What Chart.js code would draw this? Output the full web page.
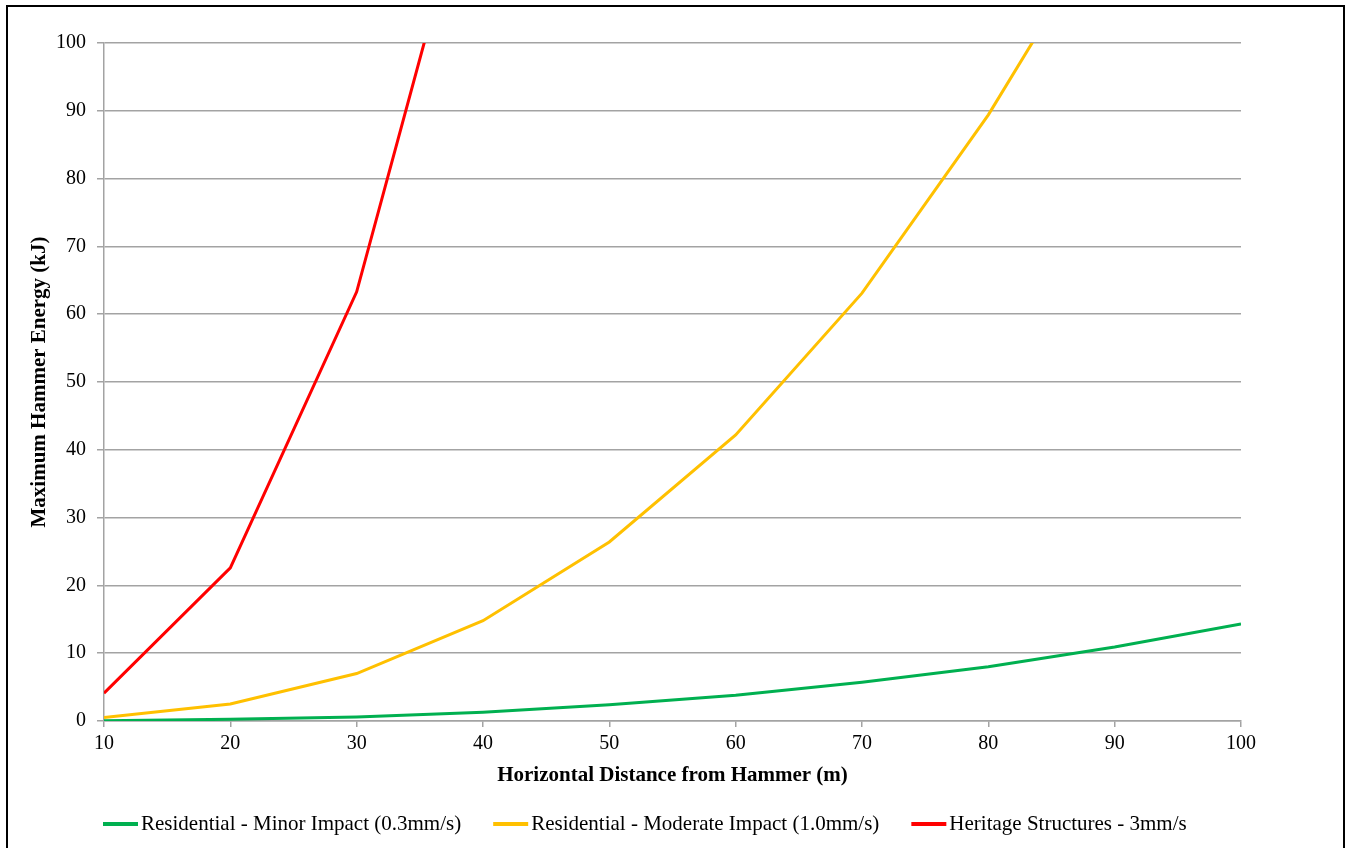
<!DOCTYPE html>
<html>
<head>
<meta charset="utf-8">
<script src="https://cdn.jsdelivr.net/npm/chart.js@4"></script>
<style>
  html, body { margin: 0; padding: 0; background: #fff; }
  #wrap { position: relative; width: 1346px; height: 848px; }
  #frame {
    position: absolute; left: 6px; top: 5px; width: 1335px; height: 860px;
    border: 2px solid #000; pointer-events: none;
  }
</style>
</head>
<body>
<div id="wrap">
  <canvas id="energyChart" width="1346" height="848"></canvas>
  <div id="frame"></div>
</div>
<script>
// distances (m) and max hammer energy (kJ)
const distances = [10, 20, 30, 40, 50, 60, 70, 80, 90, 100];
const minorImpact = [0.05, 0.25, 0.6, 1.3, 2.4, 3.8, 5.7, 8.0, 10.9, 14.3];
const moderateImpact = [0.5, 2.5, 7.0, 14.8, 26.4, 42.2, 63.1, 89.4, 120, null];
const heritage = [4.1, 22.6, 63.3, 132, null, null, null, null, null, null];

const seriesLabels = [
    'Residential - Minor Impact (0.3mm/s)',
    'Residential - Moderate Impact (1.0mm/s)',
    'Heritage Structures - 3mm/s'
];
const seriesColors = ['#00b050', '#ffc000', '#ff0000'];

const toPoints = (vals) => distances.map((d, i) => ({ x: d, y: vals[i] }));

const serif = '"Liberation Serif", "Times New Roman", serif';
const gridGrey = '#a3a3a3';

// legend drawn under the axis title, Excel style (short line + text)
const bottomLegend = {
    id: 'bottomLegend',
    afterDraw(chart) {
        const c = chart.ctx;
        c.save();
        c.font = '21px ' + serif;
        c.textBaseline = 'middle';
        c.fillStyle = '#000';
        let x = chart.chartArea.left - 1;
        const y = 824;
        chart.data.datasets.forEach((ds) => {
            c.strokeStyle = ds.borderColor;
            c.lineWidth = 4;
            c.beginPath();
            c.moveTo(x, y);
            c.lineTo(x + 35, y);
            c.stroke();
            c.fillText(ds.label, x + 38, y);
            x += 38 + c.measureText(ds.label).width + 32;
        });
        c.restore();
    }
};

const ctx = document.getElementById('energyChart');
new Chart(ctx, {
    type: 'line',
    data: {
        datasets: seriesLabels.map((label, i) => ({
            label: label,
            data: toPoints([minorImpact, moderateImpact, heritage][i]),
            borderColor: seriesColors[i],
            backgroundColor: seriesColors[i]
        }))
    },
    options: {
        responsive: false,
        animation: false,
        layout: {
            padding: { left: 0, right: 105, top: 43, bottom: 56 }
        },
        elements: {
            line: { borderWidth: 3, tension: 0 },
            point: { radius: 0 }
        },
        plugins: {
            legend: { display: false },
            tooltip: { enabled: false }
        },
        scales: {
            x: {
                type: 'linear',
                min: 10,
                max: 100,
                afterFit(scale) { scale.height = 71; },
                ticks: {
                    stepSize: 10,
                    color: '#000',
                    padding: 5,
                    font: { family: serif, size: 20 }
                },
                grid: { drawOnChartArea: false, tickLength: 6, color: gridGrey, lineWidth: 1.5 },
                border: { color: gridGrey, width: 1.5 },
                title: {
                    display: true,
                    text: 'Horizontal Distance from Hammer (m)',
                    color: '#000',
                    padding: { top: 0, bottom: 4 },
                    font: { family: serif, size: 21, weight: 'bold' }
                }
            },
            y: {
                min: 0,
                max: 100,
                afterFit(scale) { scale.width = 104; },
                ticks: {
                    stepSize: 10,
                    color: '#000',
                    padding: 11,
                    font: { family: serif, size: 20 }
                },
                grid: { tickLength: 7, color: gridGrey, lineWidth: 1.5 },
                border: { color: gridGrey, width: 1.5 },
                title: {
                    display: true,
                    text: 'Maximum Hammer Energy (kJ)',
                    color: '#000',
                    padding: { top: 27, bottom: 0 },
                    font: { family: serif, size: 21, weight: 'bold' }
                }
            }
        }
    },
    plugins: [bottomLegend]
});
</script>
</body>
</html>
